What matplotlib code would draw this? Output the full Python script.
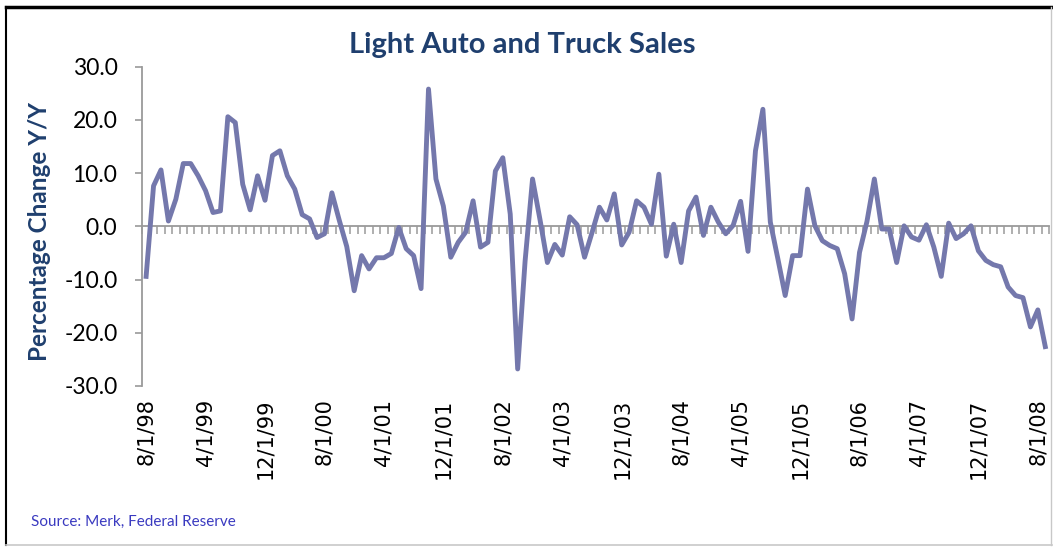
import matplotlib
matplotlib.use("Agg")
import matplotlib.pyplot as plt
import numpy as np
from matplotlib.lines import Line2D

plt.rcParams['axes.unicode_minus'] = False

# Monthly Y/Y % change, 8/1/98 .. 9/1/08
values = [
    -9.4, 7.6, 10.6, 1.0, 5.1, 11.8, 11.8, 9.5, 6.7, 2.6,
    2.9, 20.6, 19.5, 7.9, 3.1, 9.5, 4.9, 13.3, 14.2, 9.5,
    7.0, 2.2, 1.4, -2.1, -1.4, 6.3, 1.1, -3.8, -12.1, -5.5,
    -8.0, -5.9, -5.9, -5.1, -0.2, -4.2, -5.5, -11.7, 25.8, 8.9,
    3.8, -5.8, -3.0, -1.1, 4.8, -3.9, -3.0, 10.4, 12.9, 2.3,
    -26.8, -6.5, 8.9, 1.3, -6.8, -3.4, -5.4, 1.8, 0.3, -5.8,
    -1.2, 3.6, 1.2, 6.1, -3.5, -1.1, 4.8, 3.6, 0.4, 9.8,
    -5.6, 0.4, -6.8, 2.9, 5.5, -1.7, 3.6, 0.8, -1.4, 0.2,
    4.7, -4.7, 14.2, 22.0, 0.8, -6.0, -13.0, -5.5, -5.5, 7.0,
    0.1, -2.7, -3.6, -4.2, -8.9, -17.4, -4.9, 0.9, 8.9, -0.5,
    -0.5, -6.8, 0.1, -2.0, -2.6, 0.3, -3.9, -9.4, 0.6, -2.3,
    -1.4, 0.1, -4.6, -6.4, -7.2, -7.6, -11.4, -13.0, -13.4, -18.9,
    -15.7, -22.6,
]
tick_labels = ['8/1/98', '4/1/99', '12/1/99', '8/1/00', '4/1/01', '12/1/01',
               '8/1/02', '4/1/03', '12/1/03', '8/1/04', '4/1/05', '12/1/05',
               '8/1/06', '4/1/07', '12/1/07', '8/1/08']
label_every = 8
y_ticks = [-30, -20, -10, 0, 10, 20, 30]

title_color = '#1F3F6E'
line_color = '#7478AC'
axis_gray = '#9A9A9A'
source_color = '#3A3AC0'

W, H = 1053, 548
fig = plt.figure(figsize=(W / 100, H / 100), dpi=100)

def fx(px):
    return px / W

def fy(py):
    return 1 - py / H

ax = fig.add_axes([fx(142.4), fy(386), fx(1049) - fx(142.4), fy(66.7) - fy(386)])
x = np.arange(len(values))
ax.plot(x, values, color=line_color, lw=3.5, solid_joinstyle='round', zorder=3)
ax.set_xlim(-0.5, len(values) - 0.5)
ax.set_ylim(-30, 30)

for s in ['top', 'right']:
    ax.spines[s].set_visible(False)
ax.spines['bottom'].set_position(('data', 0))
ax.spines['bottom'].set_color(axis_gray)
ax.spines['bottom'].set_linewidth(1.3)
ax.spines['left'].set_color(axis_gray)
ax.spines['left'].set_linewidth(1.3)

ax.set_xticks(np.arange(-0.5, len(values) + 0.5, 1))
ax.tick_params(axis='x', direction='out', length=6, width=1.1, color=axis_gray,
               labelbottom=False)
ax.set_yticks(y_ticks)
ax.set_yticklabels([f'{v:.1f}' for v in y_ticks])
ax.tick_params(axis='y', direction='out', length=5, width=1.2, color=axis_gray,
               labelsize=16.5, pad=13)
for t in ax.get_yticklabels():
    t.set_fontfamily('Lato')

sec = ax.secondary_xaxis('bottom')
sec.set_xticks(x[::label_every])
sec.set_xticklabels(tick_labels, rotation=90, fontsize=15, fontfamily='DejaVu Sans')
sec.spines['bottom'].set_visible(False)
sec.tick_params(axis='x', length=0, pad=9)

fig.text(fx(522), fy(45), 'Light Auto and Truck Sales', ha='center', va='center',
         fontsize=21, fontweight='bold', color=title_color, family='Lato')
fig.text(fx(40), fy(231), 'Percentage Change Y/Y', ha='center', va='center',
         rotation=90, fontsize=17.5, fontweight='bold', color=title_color, family='Lato')
fig.text(fx(31), fy(522), 'Source: Merk, Federal Reserve', ha='left', va='center',
         fontsize=11, color=source_color, family=['Liberation Sans Narrow', 'Lato'])

# outer frame
fig.add_artist(Line2D([fx(6), fx(1052)], [fy(7), fy(7)], color='black', lw=2.5))
fig.add_artist(Line2D([fx(6), fx(6)], [fy(7), fy(545)], color='black', lw=1.5))
fig.add_artist(Line2D([fx(6), fx(1052)], [fy(545), fy(545)], color='#C8C8C8', lw=1.2))
fig.add_artist(Line2D([fx(1051), fx(1051)], [fy(7), fy(545)], color='#C8C8C8', lw=1.0))

fig.savefig('out.png', dpi=100)
